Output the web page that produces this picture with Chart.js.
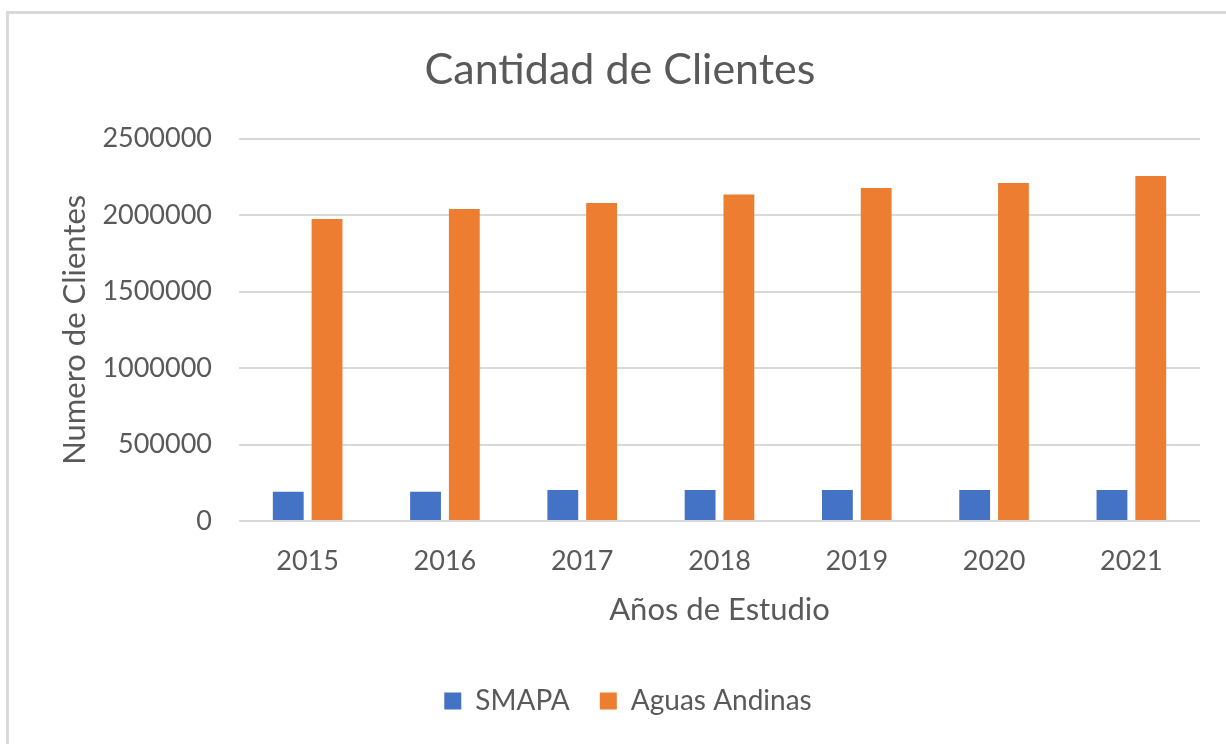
<!DOCTYPE html>
<html>
<head>
<meta charset="utf-8">
<script src="https://cdn.jsdelivr.net/npm/chart.js@4.4.1/dist/chart.umd.min.js"></script>
<style>
  html, body { margin: 0; padding: 0; background: #ffffff; }
  body { width: 1226px; height: 744px; overflow: hidden; position: relative; }
  #wrap { position: absolute; left: 0; top: 0; width: 1226px; height: 744px; }
  #frame { position: absolute; left: 6px; top: 11px; right: -10px; bottom: -10px;
           border-top: 3px solid #d9d9d9; border-left: 3px solid #d9d9d9; pointer-events: none; }
</style>
</head>
<body>
<div id="wrap"><canvas id="c" width="1226" height="744"></canvas></div>
<div id="frame"></div>
<script>
const categories = ['2015', '2016', '2017', '2018', '2019', '2020', '2021'];
const smapa = [192000, 192000, 203000, 203000, 203000, 203000, 203000];
const aguasAndinas = [1974000, 2040000, 2079000, 2135000, 2177000, 2210000, 2256000];
const yTicks = [0, 500000, 1000000, 1500000, 2000000, 2500000];
const chartTitle = 'Cantidad de Clientes';
const xTitle = 'Años de Estudio';
const yTitle = 'Numero de Clientes';
const seriesNames = ['SMAPA', 'Aguas Andinas'];

const FONT = 'Lato, "Open Sans", sans-serif';
const GREY = '#595959';

const legendShift = {
  id: 'legendShift',
  afterLayout(chart) {
    if (chart.legend) { chart.legend.left += 8; chart.legend.right += 8; chart.legend.adjustHitBoxes && chart.legend.adjustHitBoxes(); }
  }
};

new Chart(document.getElementById('c'), {
  type: 'bar',
  data: {
    labels: categories,
    datasets: [
      { label: seriesNames[0], data: smapa, backgroundColor: '#4472C4', borderWidth: 0,
        categoryPercentage: 0.565, barPercentage: 0.795 },
      { label: seriesNames[1], data: aguasAndinas, backgroundColor: '#ED7D31', borderWidth: 0,
        categoryPercentage: 0.565, barPercentage: 0.795 }
    ]
  },
  plugins: [legendShift],
  options: {
    responsive: false,
    animation: false,
    layout: { padding: { left: 40, right: 26, top: 0, bottom: 19 } },
    plugins: {
      tooltip: { enabled: false },
      title: {
        display: true, text: chartTitle, color: GREY,
        font: { family: FONT, size: 43, weight: 'normal' },
        padding: { top: 44, bottom: 43 }
      },
      legend: {
        position: 'bottom',
        labels: {
          color: GREY, boxWidth: 17, boxHeight: 17, padding: 30,
          font: { family: FONT, size: 28 }
        }
      }
    },
    scales: {
      x: {
        grid: { display: false },
        border: { display: false },
        ticks: { color: GREY, font: { family: FONT, size: 27 }, padding: 16, maxRotation: 0 },
        title: { display: true, text: xTitle, color: GREY,
                 font: { family: FONT, size: 31 }, padding: { top: 0, bottom: 28 } },
        afterFit: (s) => { s.height = 136; }
      },
      y: {
        min: 0, max: 2500000,
        afterBuildTicks: (s) => { s.ticks = yTicks.map(v => ({ value: v })); },
        grid: { color: '#d9d9d9', lineWidth: 2, drawTicks: false },
        border: { display: false },
        ticks: { color: GREY, font: { family: FONT, size: 27 }, padding: 27,
                 callback: (v) => String(v) },
        title: { display: true, text: yTitle, color: GREY,
                 font: { family: FONT, size: 31 }, padding: { top: 16, bottom: 0 } },
        afterFit: (s) => { s.width = 199; }
      }
    }
  }
});
</script>
</body>
</html>
